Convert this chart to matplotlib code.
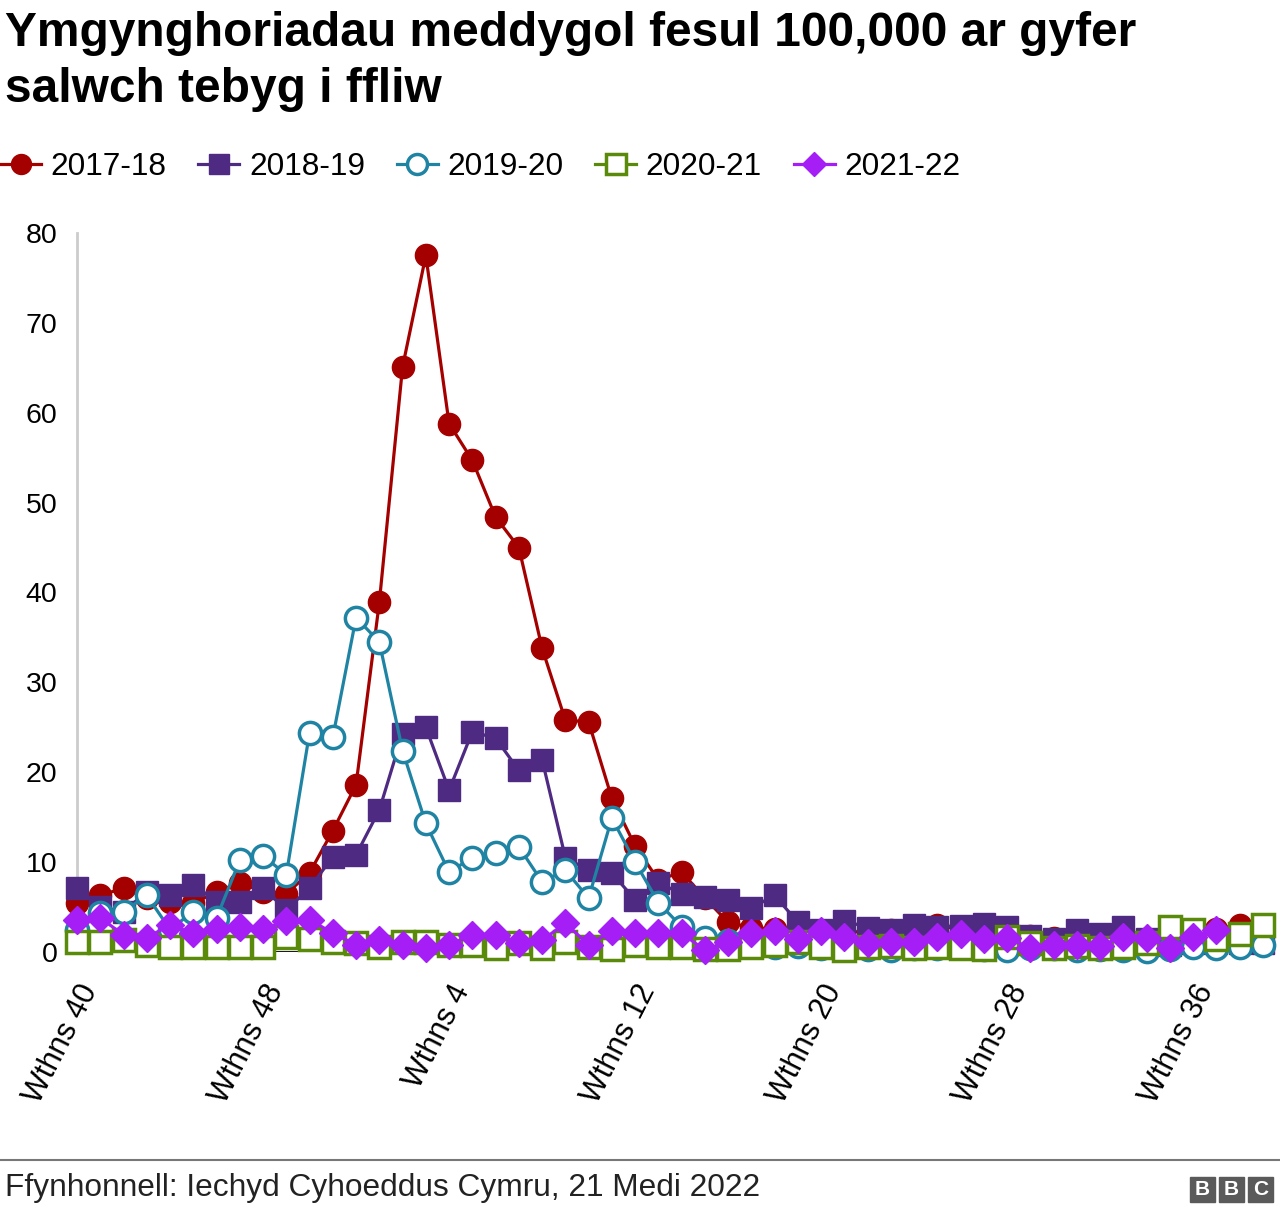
import matplotlib
matplotlib.use("Agg")
import matplotlib.pyplot as plt
import matplotlib.patches as mpatches
import numpy as np

plt.rcParams['font.family'] = ['Liberation Sans', 'DejaVu Sans']

# weeks 40..52 then 1..39
weeks = list(range(40, 53)) + list(range(1, 40))
tick_weeks = [40, 48, 4, 12, 20, 28, 36]
tick_labels = ['Wthns %d' % w for w in tick_weeks]

s2017 = [5.4, 6.3, 7.1, 6.0, 5.6, 5.4, 6.7, 7.7, 6.7, 6.5,
         8.8, 13.5, 18.6, 38.9, 65.1, 77.5, 58.8, 54.7, 48.4, 45.0,
         33.8, 25.8, 25.6, 17.1, 11.8, 8.0, 8.9, 6.0, 3.3, 2.7,
         2.6, 2.3, 2.2, 2.3, 2.2, 2.4, 2.2, 3.0, 2.5, 2.4,
         2.2, 1.8, 1.6, 1.4, 1.5, 1.5, 1.4, 1.4, 1.6, 2.6,
         3.0, 2.5]
s2018 = [7.1, 5.0, 4.5, 6.7, 6.3, 7.5, 5.6, 5.6, 7.1, 4.7,
         7.1, 10.6, 10.8, 15.8, 24.3, 25.0, 18.0, 24.5, 23.8, 20.2,
         21.4, 10.5, 9.1, 8.8, 5.8, 7.7, 6.5, 6.1, 5.8, 4.9,
         6.3, 3.3, 2.5, 3.5, 2.7, 2.5, 3.0, 2.8, 2.9, 3.1,
         2.8, 1.8, 1.5, 2.4, 2.0, 2.8, 1.5, 0.8, 1.0, 1.0,
         1.0, 1.0]
s2019 = [2.5, 4.3, 4.5, 6.3, 2.5, 4.5, 3.8, 10.2, 10.7, 8.6,
         24.4, 23.9, 37.2, 34.5, 22.4, 14.3, 8.9, 10.5, 11.0, 11.7,
         7.8, 9.1, 6.0, 14.9, 10.0, 5.5, 2.8, 1.6, 1.2, 0.8,
         0.6, 0.7, 0.5, 0.4, 0.3, 0.2, 0.4, 0.5, 0.6, 0.3,
         0.2, 0.5, 0.4, 0.2, 0.3, 0.2, 0.1, 0.3, 0.6, 0.4,
         0.6, 0.8]
s2020 = [1.1, 1.1, 1.3, 0.8, 0.6, 0.6, 0.6, 0.6, 0.6, 1.7,
         1.5, 1.1, 1.0, 0.6, 1.1, 1.1, 0.8, 0.8, 0.5, 1.0,
         0.5, 1.1, 0.6, 0.3, 0.8, 0.6, 0.6, 0.3, 0.3, 0.6,
         0.8, 1.1, 0.6, 0.2, 0.6, 0.7, 0.4, 0.6, 0.4, 0.3,
         1.7, 1.0, 0.4, 0.7, 0.4, 0.6, 1.0, 2.8, 2.4, 1.5,
         2.0, 3.0]
s2021 = [3.6, 3.8, 1.9, 1.6, 3.0, 2.1, 2.6, 2.8, 2.6, 3.4,
         3.6, 2.1, 0.8, 1.3, 0.8, 0.5, 0.8, 1.9, 1.9, 1.0,
         1.3, 3.2, 0.8, 2.3, 2.1, 2.1, 2.1, 0.2, 1.1, 2.1,
         2.3, 1.4, 2.3, 1.7, 1.0, 1.1, 1.1, 1.7, 2.0, 1.4,
         1.6, 0.4, 0.8, 0.8, 0.7, 1.7, 1.6, 0.5, 1.7, 2.4,
         np.nan, np.nan]

series = [
    ('2017-18', s2017, '#a50000', 'o', '#a50000'),
    ('2018-19', s2018, '#4e2a82', 's', '#4e2a82'),
    ('2019-20', s2019, '#1f84a3', 'o', 'white'),
    ('2020-21', s2020, '#5a8a0a', 's', 'white'),
    ('2021-22', s2021, '#a51ef5', 'D', '#a51ef5'),
]

fig = plt.figure(figsize=(12.8, 12.14), dpi=100)
ax = fig.add_axes([77 / 1280, 1 - 952 / 1214, (1263 - 77) / 1280, (952 - 233) / 1214])

x = np.arange(len(weeks))
ax.axhline(0, color='black', lw=2, zorder=1)
for name, vals, col, mk, face in series:
    ms = 14 if mk == 'D' else 16
    ax.plot(x, vals, color=col, lw=2.3, marker=mk, markersize=ms,
            markerfacecolor=face, markeredgecolor=col,
            markeredgewidth=2.5 if face == 'white' else 1,
            label=name, clip_on=False, zorder=3)

ax.set_xlim(0, len(weeks) - 1)
ax.set_ylim(0, 80)
ax.set_yticks(range(0, 81, 10))
ax.set_xticks([weeks.index(w) for w in tick_weeks])
ax.set_xticklabels(tick_labels, rotation=63, ha='right', rotation_mode='anchor')
ax.tick_params(axis='y', length=0, labelsize=20.5, pad=14)
ax.tick_params(axis='x', length=0, labelsize=22, pad=20)
for sp in ['top', 'right', 'bottom']:
    ax.spines[sp].set_visible(False)
ax.spines['left'].set_color('#cccccc')
ax.spines['left'].set_linewidth(2)

fig.text(5 / 1280, 1 - 11 / 1214, 'Ymgynghoriadau meddygol fesul 100,000 ar gyfer\nsalwch tebyg i ffliw',
         fontsize=34.5, fontweight='bold', va='top', ha='left', linespacing=1.3)

leg = fig.legend(loc='center left', bbox_to_anchor=(0, 1 - 167 / 1214), ncol=5, frameon=False,
                 fontsize=22.8, handlelength=1.3, handletextpad=0.3, columnspacing=1.0,
                 borderaxespad=0, borderpad=0, markerscale=0.9)

fig.add_artist(plt.Line2D([0, 1], [1 - 1160 / 1214] * 2, color='#777777', lw=1.5))
fig.text(5 / 1280, 1 - 1188 / 1214, 'Ffynhonnell: Iechyd Cyhoeddus Cymru, 21 Medi 2022',
         fontsize=22.8, color='#222222', va='center', ha='left')

# BBC blocks
for k, letter in enumerate('BBC'):
    x0 = (1190 + k * 29) / 1280
    fig.add_artist(mpatches.Rectangle((x0, 1 - 1202 / 1214), 25 / 1280, 25 / 1214,
                                      color='#5a5a5a', transform=fig.transFigure))
    fig.text(x0 + 12.5 / 1280, 1 - 1189.5 / 1214, letter, color='white', fontsize=15,
             fontweight='bold', ha='center', va='center')

fig.savefig('out.png', dpi=100)
